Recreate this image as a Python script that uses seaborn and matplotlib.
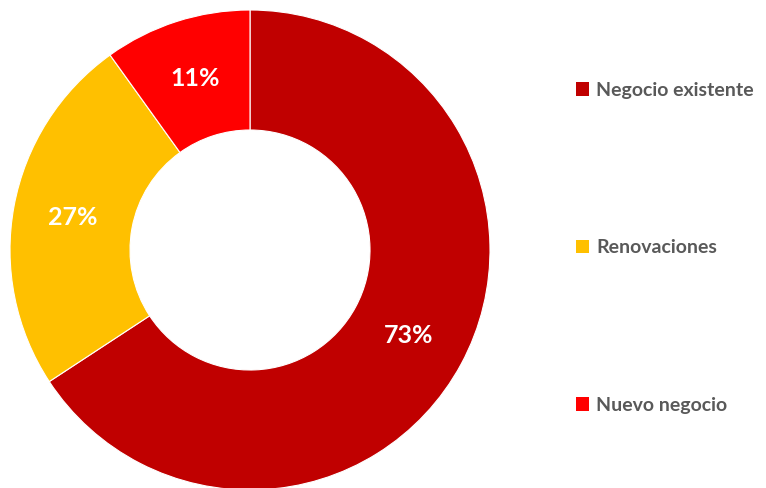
import matplotlib
matplotlib.use("Agg")
import matplotlib.pyplot as plt
from matplotlib.patches import Patch
import seaborn as sns

sns.set_theme(style="white")
plt.rcParams['font.family'] = ['Lato', 'DejaVu Sans']

categories = ["Negocio existente", "Renovaciones", "Nuevo negocio"]
values = [73, 27, 11]
colors = ["#C00000", "#FFC000", "#FF0000"]

W, H = 766, 488
fig = plt.figure(figsize=(W / 100, H / 100), dpi=100)
fig.patch.set_facecolor("white")
cx, cy, r = 250, 250, 240
ax = fig.add_axes([(cx - r) / W, (H - cy - r) / H, 2 * r / W, 2 * r / H])

total = sum(values)
wedges, texts, autotexts = ax.pie(
    values, colors=colors, startangle=90, counterclock=False, radius=1,
    wedgeprops=dict(width=0.5, edgecolor="white", linewidth=0.8),
    autopct=lambda p: f"{round(p * total / 100)}%", pctdistance=0.75,
    textprops=dict(color="white", fontsize=18, fontweight="bold"))
ax.set_xlim(-1, 1)
ax.set_ylim(-1, 1)
ax.set_aspect("equal")
ax.axis("off")

handles = [Patch(facecolor=c, edgecolor="none") for c in colors]
leg = fig.legend(handles, categories, loc="upper left",
                 bbox_to_anchor=(566 / W, 1 - 72 / H), frameon=False,
                 fontsize=14, labelspacing=7.22, handlelength=0.7,
                 handleheight=0.7, handletextpad=0.35, borderpad=0)
for t in leg.get_texts():
    t.set_color("#595959")
    t.set_fontweight("bold")

fig.savefig("out.png", dpi=100, facecolor="white")
